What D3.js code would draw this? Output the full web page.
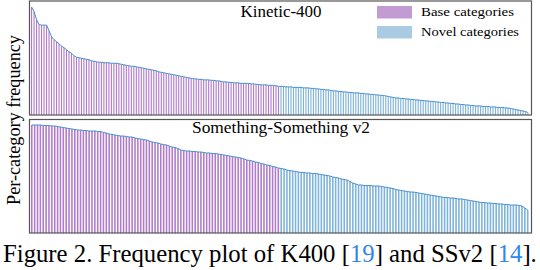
<!DOCTYPE html>
<html>
<head>
<meta charset="utf-8">
<script src="https://cdn.jsdelivr.net/npm/d3@7"></script>
<style>
  body { margin: 0; background: #fff; }
  svg { display: block; }
</style>
</head>
<body>
<svg id="chart" width="540" height="270"></svg>
<script>
// K400 per-category frequency (sorted), 200 bars, first half base / second half novel
var k400Values = [
  107.5, 103, 95, 90, 89.5, 89.5, 89.5, 84, 78, 75,
  73, 71, 68.5, 67, 65, 63, 61.5, 59, 57.5, 57,
  56.5, 56, 55.5, 55, 54, 53.5, 53, 52.5, 52.5, 52,
  52, 52, 51.5, 51.5, 51.5, 51, 50.5, 50, 49.5, 49,
  48.5, 48.5, 48, 47.5, 47, 46.5, 46, 45.5, 45, 44.5,
  44, 43, 42.5, 42, 41.5, 41, 40.5, 40, 39.5, 39,
  38.5, 38, 37.5, 37, 36.5, 36, 36, 35.5, 35.5, 35,
  35, 35, 34.5, 34.5, 34, 34, 33.5, 33, 33, 32.5,
  32.5, 32, 32, 32, 31.5, 31.5, 31.5, 31.5, 31, 31,
  30.5, 30.5, 30, 30, 30, 29.5, 29.5, 29.5, 29, 28.5,
  28.5, 28.5, 28, 28, 28, 27.5, 27.5, 27.5, 27.5, 27,
  27, 27, 26.5, 26.5, 26, 26, 25.5, 25.5, 25, 25,
  24.5, 24, 24, 23.5, 23.5, 23, 23, 22.5, 22.5, 22,
  22, 22, 21.5, 21.5, 21, 21, 20.5, 20.5, 20, 20,
  19.5, 19.5, 19, 18.5, 18, 17.5, 17, 17, 16.5, 16.5,
  16, 16, 15.5, 15.5, 15, 15, 14.5, 14.5, 14, 14,
  13.5, 13.5, 13, 13, 12.5, 12.5, 12, 12, 11.5, 11.5,
  11, 11, 10.5, 10.5, 10, 10, 9.5, 9.5, 9, 9,
  9, 8.5, 8.5, 8.5, 8, 8, 8, 7.5, 7.5, 7.5,
  7, 7, 6.5, 6, 5.5, 5, 4.5, 4, 3.5, 2.5
];
var k400BaseCount = 100;

// SSv2 per-category frequency (sorted), 174 bars, 87 base / 87 novel
var ssv2Values = [
  108, 108, 108, 108, 107.5, 107.5, 107.5, 107, 107, 106.5,
  106, 105.5, 105, 104.5, 104, 103.5, 103, 103, 102.5, 102.5,
  102, 102, 102, 101.5, 101.5, 100.5, 100, 99, 98.5, 98,
  97.5, 97, 97, 96.5, 96, 96, 95, 94.5, 94, 93.5,
  93, 92, 91, 90.5, 90, 89, 88.5, 88, 87, 86,
  85.5, 84.5, 83, 82.5, 82, 82, 81.5, 81.5, 81, 81,
  80.5, 80, 80, 79.5, 79.5, 79, 78.5, 78, 77.5, 77,
  76.5, 76, 75.5, 75, 74, 73, 72.5, 72, 71, 70.5,
  69.5, 69, 68, 67.5, 66.5, 66, 65, 64.5, 64, 63,
  62.5, 62, 61.5, 61, 60.5, 60.5, 60, 60, 59.5, 59.5,
  59, 58.5, 58, 57.5, 57, 56, 55.5, 55, 54, 53.5,
  53, 51.5, 50, 49, 48, 48, 47.5, 47.5, 47.5, 47,
  47, 47, 46.5, 46, 45.5, 45, 44.5, 43.5, 43, 42.5,
  42, 41.5, 41, 41, 40.5, 40, 39.5, 39, 38.5, 38,
  37.5, 37, 36.5, 36, 35.5, 35.5, 35, 35, 34.5, 34,
  34, 33.5, 33, 32.5, 32, 31.5, 31, 30.5, 30.5, 30,
  30, 29.5, 29.5, 29, 29, 28.5, 28.5, 28, 28, 28,
  27.5, 27, 25, 23
];
var ssv2BaseCount = 87;

var panelTitles = ["Kinetic-400", "Something-Something v2"];
var legendLabels = ["Base categories", "Novel categories"];
var captionParts = [
  {text: "Figure 2. Frequency plot of K400 [", cite: false},
  {text: "19", cite: true},
  {text: "] and SSv2 [", cite: false},
  {text: "14", cite: true},
  {text: "].", cite: false}
];

var baseSwatch = "#c39bd3", novelSwatch = "#a9cce3";
var baseBar = "#b07cca", novelBar = "#7eb3db";
var lineColor = "#4a8fca";
var frameColor = "#555";

var svg = d3.select("#chart");

var panels = [
  {values: k400Values, baseCount: k400BaseCount, title: panelTitles[0],
   top: 1, bottom: 115, titleY: 17, titleW: 81, pad: 0.55, legend: true},
  {values: ssv2Values, baseCount: ssv2BaseCount, title: panelTitles[1],
   top: 119.5, bottom: 233, titleY: 133, titleW: 178, pad: 0.45, legend: false}
];

var left = 29.5, right = 531.5;

panels.forEach(function(p) {
  var g = svg.append("g");

  var x = d3.scaleBand()
      .domain(d3.range(p.values.length))
      .range([left + 1.5, right - 3])
      .paddingInner(p.pad);

  var y = d3.scaleLinear()
      .domain([0, 113.5])
      .range([p.bottom, p.top]);

  g.selectAll("rect.bar")
    .data(p.values)
    .enter().append("rect")
      .attr("class", "bar")
      .attr("x", function(d, i) { return x(i); })
      .attr("width", x.bandwidth())
      .attr("y", function(d) { return y(d); })
      .attr("height", function(d) { return y(0) - y(d); })
      .attr("fill", function(d, i) { return i < p.baseCount ? baseBar : novelBar; });

  var line = d3.line()
      .x(function(d, i) { return x(i) + x.bandwidth() / 2; })
      .y(function(d) { return y(d); });

  g.append("path")
      .datum(p.values)
      .attr("d", line)
      .attr("fill", "none")
      .attr("stroke", lineColor)
      .attr("stroke-width", 1);

  // frame
  g.append("rect")
      .attr("x", left)
      .attr("y", p.top)
      .attr("width", right - left)
      .attr("height", p.bottom - p.top)
      .attr("fill", "none")
      .attr("stroke", frameColor)
      .attr("stroke-width", 1.2);

  g.append("text")
      .attr("x", 281)
      .attr("y", p.titleY)
      .attr("text-anchor", "middle")
      .attr("font-family", "Liberation Serif, serif")
      .attr("font-size", 16)
      .attr("textLength", p.titleW)
      .attr("lengthAdjust", "spacingAndGlyphs")
      .attr("fill", "#000")
      .text(p.title);

  if (p.legend) {
    var leg = g.append("g").attr("class", "legend");
    var colors = [baseSwatch, novelSwatch];
    var widths = [93, 98];
    legendLabels.forEach(function(lbl, i) {
      leg.append("rect")
          .attr("x", 377)
          .attr("y", 6 + i * 20)
          .attr("width", 35)
          .attr("height", 12.5)
          .attr("fill", colors[i]);
      leg.append("text")
          .attr("x", 421)
          .attr("y", 15.5 + i * 20)
          .attr("font-family", "Liberation Serif, serif")
          .attr("font-size", 13)
          .attr("textLength", widths[i])
          .attr("lengthAdjust", "spacingAndGlyphs")
          .attr("fill", "#000")
          .text(lbl);
    });
  }
});

// y axis label
var ylab = svg.append("text")
    .attr("transform", "translate(20,120) rotate(-90)")
    .attr("text-anchor", "middle")
    .attr("font-family", "Liberation Serif, serif")
    .attr("font-size", 16)
    .attr("fill", "#000")
    .text("Per-category frequency");
var yl = ylab.node().getComputedTextLength();
ylab.attr("font-size", 16 * 170 / yl);

// caption
var cap = svg.append("text")
    .attr("x", 3)
    .attr("y", 262)
    .attr("font-family", "Liberation Serif, serif")
    .attr("font-size", 23)
    .attr("fill", "#000");
cap.selectAll("tspan")
  .data(captionParts)
  .enter().append("tspan")
    .attr("fill", function(d) { return d.cite ? "#2f86f0" : "#000"; })
    .text(function(d) { return d.text; });
var cw = cap.node().getComputedTextLength();
cap.attr("font-size", 23 * 534 / cw);
</script>
</body>
</html>
